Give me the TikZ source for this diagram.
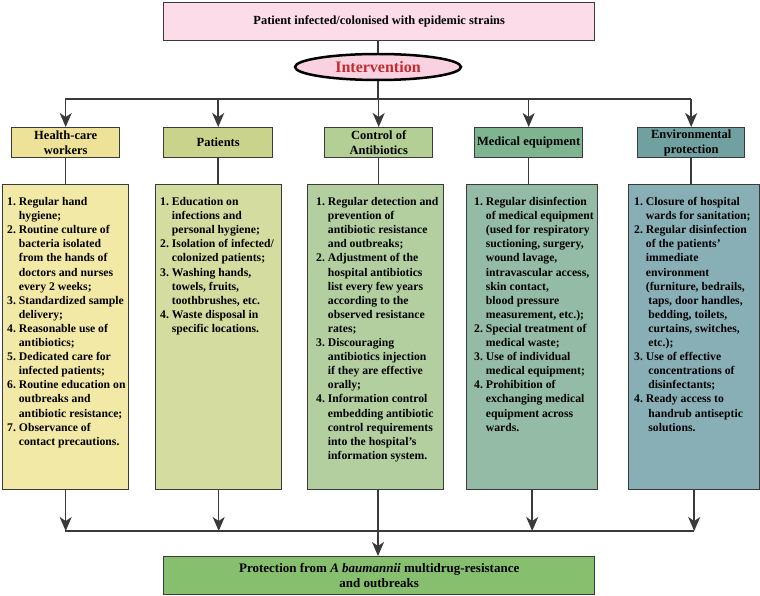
\documentclass[tikz,border=0pt]{standalone}
\usepackage{fontspec}
\setmainfont{Liberation Serif}
\usetikzlibrary{arrows.meta,shapes.geometric}
\definecolor{linec}{HTML}{3A3A3A}
\definecolor{topc}{HTML}{FCDCE8}
\definecolor{ellc}{HTML}{F9D2E2}
\definecolor{redt}{HTML}{C22A2E}
\definecolor{hAc}{HTML}{EEE298}
\definecolor{bAc}{HTML}{F3E9A7}
\definecolor{hBc}{HTML}{C9D38C}
\definecolor{bBc}{HTML}{D5DC9F}
\definecolor{hCc}{HTML}{B3CF96}
\definecolor{bCc}{HTML}{B3CFA0}
\definecolor{hDc}{HTML}{7EB590}
\definecolor{bDc}{HTML}{93BBA6}
\definecolor{hEc}{HTML}{70A1A0}
\definecolor{bEc}{HTML}{89AFB6}
\definecolor{botc}{HTML}{86BF6E}
\tikzset{
  box/.style={draw=linec, line width=1.4pt, inner sep=0pt, anchor=north west},
  hdr/.style={box, minimum height=30pt, align=center, font=\fontsize{12.5}{15}\selectfont\bfseries},
  bodybox/.style={box, minimum height=305pt},
  bodytext/.style={anchor=base west, inner sep=0pt, font=\fontsize{11.7}{14.1}\selectfont\bfseries},
  conn/.style={draw=linec, line width=1.5pt},
  arr/.style={conn, -{Stealth[length=14pt,width=12pt,inset=4pt]}}
}
\newcommand{\ind}{\hspace{2.5pt}}
\begin{document}
\begin{tikzpicture}[x=1pt,y=-1pt]
\useasboundingbox (0,0) rectangle (760,596);
\fill[white] (0,0) rectangle (760,596);

% top
\node[box, fill=topc, minimum width=431pt, minimum height=38pt, font=\fontsize{12.4}{15}\selectfont\bfseries] (top) at (163,2) {Patient infected/colonised with epidemic strains};
\node[ellipse, draw=black, line width=2.5pt, fill=ellc, minimum width=166pt, minimum height=26pt, inner sep=0pt, text=redt, font=\fontsize{16}{18}\selectfont\bfseries] (int) at (378,67) {Intervention};

% headers
\node[hdr, fill=hAc, minimum width=108pt] (hA) at (11,127) {Health-care\\workers};
\node[hdr, fill=hBc, minimum width=109pt] (hB) at (163,127) {Patients};
\node[hdr, fill=hCc, minimum width=108pt] (hC) at (324,127) {Control of\\Antibiotics};
\node[hdr, fill=hDc, minimum width=108pt] (hD) at (474,127) {Medical equipment};
\node[hdr, fill=hEc, minimum width=107pt] (hE) at (637,127) {Environmental\\protection};

% body boxes
\node[bodybox, fill=bAc, minimum width=126pt] (bA) at (2,184) {};
\node[bodybox, fill=bBc, minimum width=126pt] (bB) at (155,184) {};
\node[bodybox, fill=bCc, minimum width=136pt] (bC) at (307,184) {};
\node[bodybox, fill=bDc, minimum width=131pt] (bD) at (466,184) {};
\node[bodybox, fill=bEc, minimum width=131pt] (bE) at (628,184) {};

% body texts
\node[bodytext] (tA) at (7,205.5) {\begin{tabular}[t]{@{}l@{\hspace{0.25em}}l@{}}
1. & Regular hand\\
   & hygiene;\\
2. & Routine culture of\\
   & bacteria isolated\\
   & from the hands of\\
   & doctors and nurses\\
   & every 2 weeks;\\
3. & Standardized sample\\
   & delivery;\\
4. & Reasonable use of\\
   & antibiotics;\\
5. & Dedicated care for\\
   & infected patients;\\
6. & Routine education on\\
   & outbreaks and\\
   & antibiotic resistance;\\
7. & Observance of\\
   & contact precautions.
\end{tabular}};

\node[bodytext] (tB) at (160,205.5) {\begin{tabular}[t]{@{}l@{\hspace{0.25em}}l@{}}
1. & Education on\\
   & infections and\\
   & personal hygiene;\\
2. & Isolation of infected/\\
   & colonized patients;\\
3. & Washing hands,\\
   & towels, fruits,\\
   & toothbrushes, etc.\\
4. & Waste disposal in\\
   & specific locations.
\end{tabular}};

\node[bodytext] (tC) at (316,205.5) {\begin{tabular}[t]{@{}l@{\hspace{0.25em}}l@{}}
1. & Regular detection and\\
   & prevention of\\
   & antibiotic resistance\\
   & and outbreaks;\\
2. & Adjustment of the\\
   & hospital antibiotics\\
   & list every few years\\
   & according to the\\
   & observed resistance\\
   & rates;\\
3. & Discouraging\\
   & antibiotics injection\\
   & if they are effective\\
   & orally;\\
4. & Information control\\
   & embedding antibiotic\\
   & control requirements\\
   & into the hospital’s\\
   & information system.
\end{tabular}};

\node[bodytext] (tD) at (474,205.5) {\begin{tabular}[t]{@{}l@{\hspace{0.25em}}l@{}}
1. & Regular disinfection\\
   & of medical equipment\\
   & (used for respiratory\\
   & suctioning, surgery,\\
   & wound lavage,\\
   & intravascular access,\\
   & skin contact,\\
   & blood pressure\\
   & measurement, etc.);\\
2. & Special treatment of\\
   & medical waste;\\
3. & Use of individual\\
   & medical equipment;\\
4. & Prohibition of\\
   & exchanging medical\\
   & equipment across\\
   & wards.
\end{tabular}};

\node[bodytext] (tE) at (634,205.5) {\begin{tabular}[t]{@{}l@{\hspace{0.25em}}l@{}}
1. & Closure of hospital\\
   & wards for sanitation;\\
2. & Regular disinfection\\
   & of the patients’\\
   & immediate\\
   & environment\\
   & (furniture, bedrails,\\
   & \ind taps, door handles,\\
   & \ind bedding, toilets,\\
   & \ind curtains, switches,\\
   & \ind etc.);\\
3. & Use of effective\\
   & \ind concentrations of\\
   & \ind disinfectants;\\
4. & Ready access to\\
   & \ind handrub antiseptic\\
   & \ind solutions.
\end{tabular}};

% bottom
\node[box, fill=botc, minimum width=431pt, minimum height=38pt, align=center, font=\fontsize{13}{15}\selectfont\bfseries] (bot) at (163,556) {Protection from \textit{A baumannii} multidrug-resistance\\and outbreaks};

% connectors top
\coordinate (hj) at (378,99);
\coordinate (hl) at (65,99);
\coordinate (hr) at (691,99);
\draw[conn] (top.south -| int) -- (int.north);
\draw[conn] (int.south) -- (hj);
\draw[conn] (hl) -- (hr);
\foreach \h in {hA,hB,hC,hD,hE}{
  \draw[arr] (\h.north |- hj) -- (\h.north);
}
\draw[conn] (hA.south) -- (hA.south |- bA.north);
\draw[conn] (hB.south) -- (hB.south |- bB.north);
\draw[conn] (hC.south) -- (hC.south |- bC.north);
\draw[conn] (hD.south) -- (hD.south |- bD.north);
\draw[conn] (hE.south) -- (hE.south |- bE.north);

% connectors bottom
\coordinate (bl) at (65,531);
\coordinate (br) at (694,531);
\draw[conn] (bl) -- (br);
\draw[arr] (bA.south) -- (bA.south |- bl);
\draw[arr] (bB.south) -- (bB.south |- bl);
\draw[arr] (bD.south) -- (bD.south |- bl);
\draw[arr] (bE.south) -- (bE.south |- bl);
\draw[arr] (bC.south -| int) -- (bot.north -| int);
\end{tikzpicture}
\end{document}
